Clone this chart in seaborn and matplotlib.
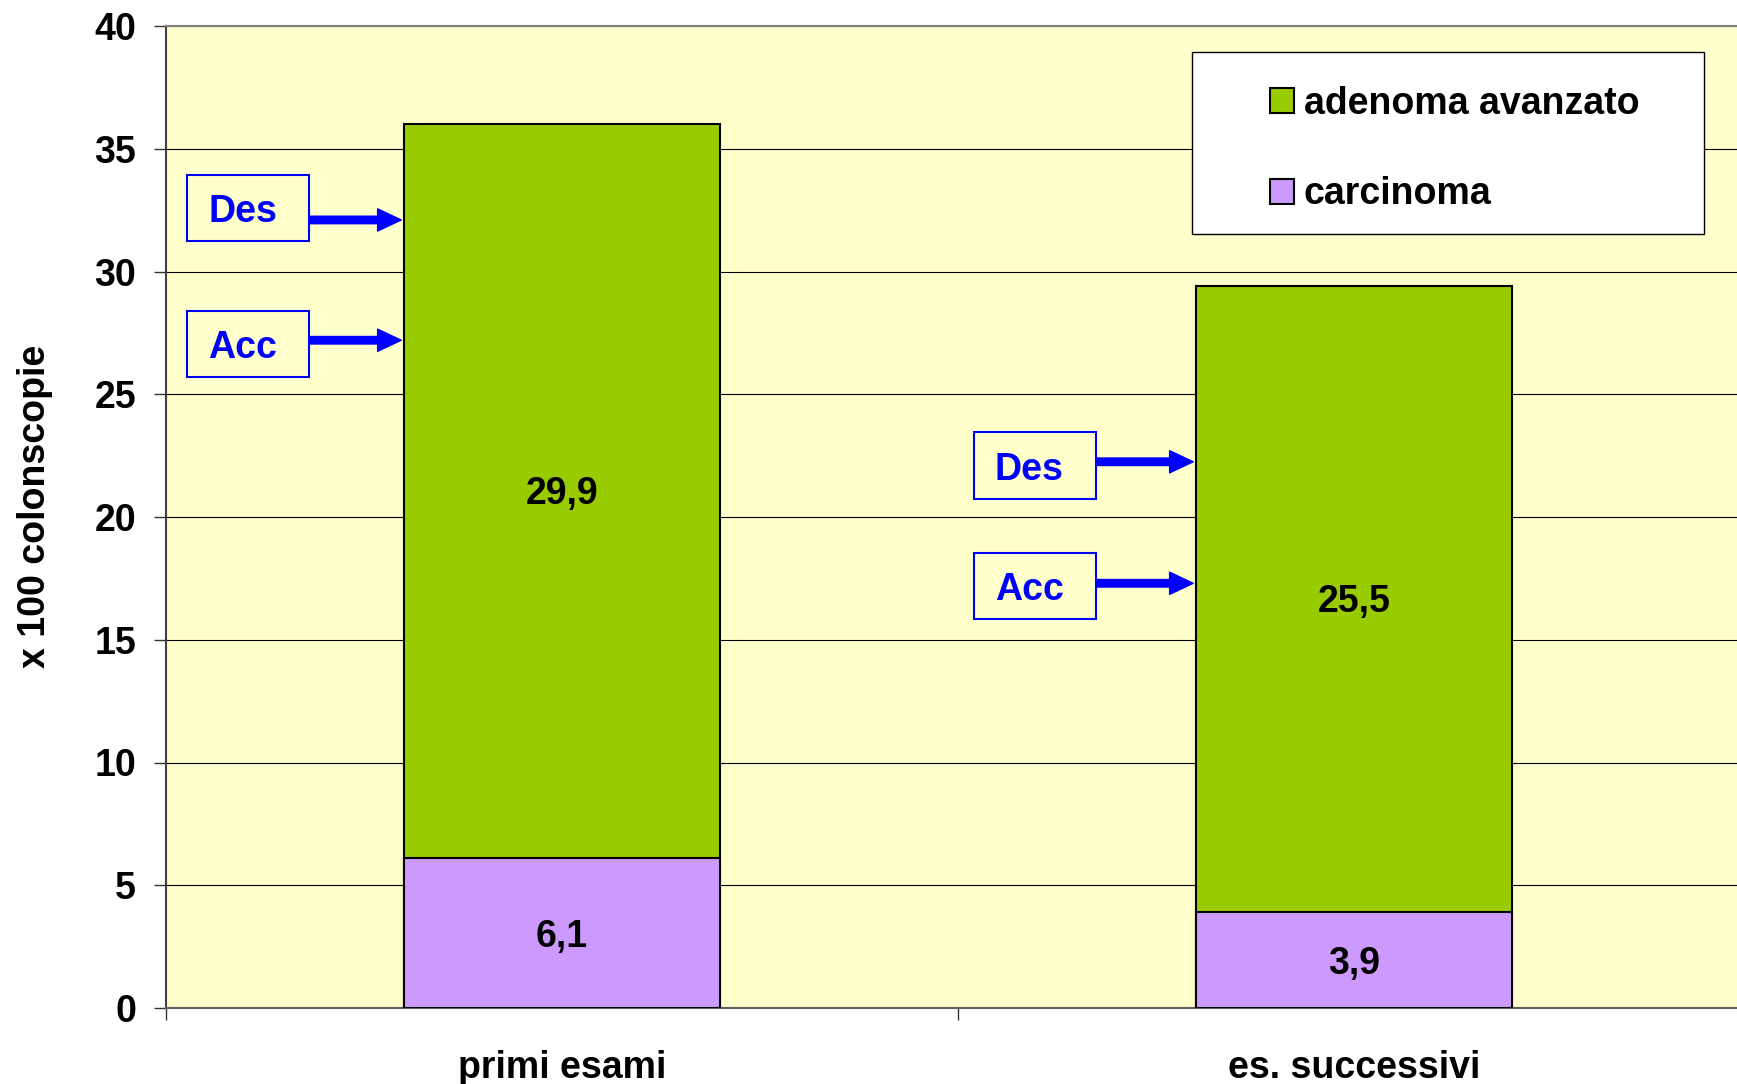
import numpy as np
import pandas as pd
import matplotlib
matplotlib.use("Agg")
import matplotlib.pyplot as plt
import seaborn as sns
from matplotlib.patches import Patch, Rectangle

# dati
categorie = ["primi esami", "es. successivi"]
carcinoma = [6.1, 3.9]
adenoma = [29.9, 25.5]
serie = ["adenoma avanzato", "carcinoma"]

# posizioni delle frecce Des / Acc (valori y)
freccia_des = [32.1, 22.25]
freccia_acc = [27.2, 17.3]
centro_box_des = [32.6, 22.1]
centro_box_acc = [27.05, 17.2]

VERDE = "#99CC00"
VIOLA = "#CC99FF"
SFONDO = "#FFFFCC"
BLU = "#0000FF"
FS = 27

sns.set_theme(style="white")
plt.rcParams["font.family"] = ["Liberation Sans", "DejaVu Sans"]
plt.rcParams["font.weight"] = "bold"
for k in ["text.color", "axes.labelcolor", "xtick.color", "ytick.color"]:
    plt.rcParams[k] = "black"

W, H = 1737, 1084
fig = plt.figure(figsize=(W / 100, H / 100), dpi=100)
fig.patch.set_facecolor("white")
ax = fig.add_axes([166 / W, 1 - 1008 / H, (1750 - 166) / W, (1008 - 26) / H])
ax.set_facecolor(SFONDO)

totale = [c + a for c, a in zip(carcinoma, adenoma)]
df = pd.DataFrame({"cat": categorie, "totale": totale, "carcinoma": carcinoma})

# barre impilate: totale (verde) sotto, carcinoma (viola) sopra
sns.barplot(data=df, x="cat", y="totale", color=VERDE, saturation=1, width=0.4,
            edgecolor="black", linewidth=1.5, ax=ax, zorder=2)
sns.barplot(data=df, x="cat", y="carcinoma", color=VIOLA, saturation=1, width=0.4,
            edgecolor="black", linewidth=1.5, ax=ax, zorder=3)

# etichette valori
for i in range(len(categorie)):
    ax.text(i, carcinoma[i] / 2 - 0.15, f"{carcinoma[i]:.1f}".replace(".", ","),
            ha="center", va="center", fontsize=FS, fontweight="bold", zorder=5)
    ax.text(i, carcinoma[i] + adenoma[i] / 2 - 0.12, f"{adenoma[i]:.1f}".replace(".", ","),
            ha="center", va="center", fontsize=FS, fontweight="bold", zorder=5)

# riquadri Des / Acc con frecce
box_x = [-0.473, 0.520]
box_w, box_h = 0.154, 2.7
for i in range(len(categorie)):
    bar_left = i - 0.2
    x0 = box_x[i]
    for testo, yc, ya in [("Des", centro_box_des[i], freccia_des[i]),
                          ("Acc", centro_box_acc[i], freccia_acc[i])]:
        ax.add_patch(Rectangle((x0, yc - box_h / 2), box_w, box_h, fill=False,
                               edgecolor=BLU, linewidth=1.5, zorder=4))
        ax.text(x0 + box_w / 2 - 0.007, yc - 0.18, testo, color=BLU, fontsize=FS,
                fontweight="bold", ha="center", va="center", zorder=5)
        ax.annotate("", xy=(bar_left - 0.003, ya), xytext=(x0 + box_w, ya),
                    arrowprops=dict(arrowstyle="simple,head_length=0.85,head_width=0.8,tail_width=0.27",
                                    mutation_scale=20, color=BLU, shrinkA=0, shrinkB=0),
                    zorder=6)

# assi
ax.set_xlim(-0.5, 1.5)
ax.set_ylim(0, 40)
ax.set_yticks(np.arange(0, 41, 5))
ax.set_yticklabels([str(v) for v in range(0, 41, 5)], fontsize=FS, fontweight="bold")
ax.tick_params(axis="y", direction="out", length=8.6, width=1, color="#333333", pad=13, left=True)
ax.yaxis.grid(True, color="black", linewidth=0.8)
ax.set_axisbelow(True)

ax.set_xticks([-0.5, 0.5, 1.5])
ax.set_xticklabels(["", "", ""])
ax.set_xticks([0, 1], minor=True)
ax.set_xticklabels(categorie, minor=True, fontsize=FS, fontweight="bold")
ax.tick_params(axis="x", which="major", direction="out", length=8.6, width=1,
               color="#333333", bottom=True)
ax.tick_params(axis="x", which="minor", length=0, pad=30)
ax.set_xlabel("")

ax.set_ylabel("x 100 colonscopie", fontsize=FS, fontweight="bold")
ax.yaxis.set_label_coords(-0.0713, 0.511)

for lato in ["left", "bottom", "top"]:
    ax.spines[lato].set_visible(True)
ax.spines["left"].set_color("#404040")
ax.spines["left"].set_linewidth(1.5)
ax.spines["bottom"].set_color("#606060")
ax.spines["bottom"].set_linewidth(1.5)
ax.spines["top"].set_color("#808080")
ax.spines["top"].set_linewidth(1.5)
ax.spines["right"].set_visible(False)

# legenda con riquadro bianco
fig.patches.append(Rectangle((1192 / W, 1 - 234 / H), (1704 - 1192) / W, (234 - 52) / H,
                             transform=fig.transFigure, facecolor="white",
                             edgecolor="black", linewidth=1, zorder=10))
maniglie = [Patch(facecolor=VERDE, edgecolor="black", linewidth=1.5, label=serie[0]),
            Patch(facecolor=VIOLA, edgecolor="black", linewidth=1.5, label=serie[1])]
leg = fig.legend(handles=maniglie, loc="upper left", bbox_to_anchor=(1251 / W, 1 - 67 / H),
                 frameon=False, prop={"weight": "bold", "size": FS},
                 handlelength=0.64, handleheight=0.64, handletextpad=0.27,
                 labelspacing=1.46, borderpad=0)
leg.set_zorder(11)

fig.savefig("out.png", dpi=100)
